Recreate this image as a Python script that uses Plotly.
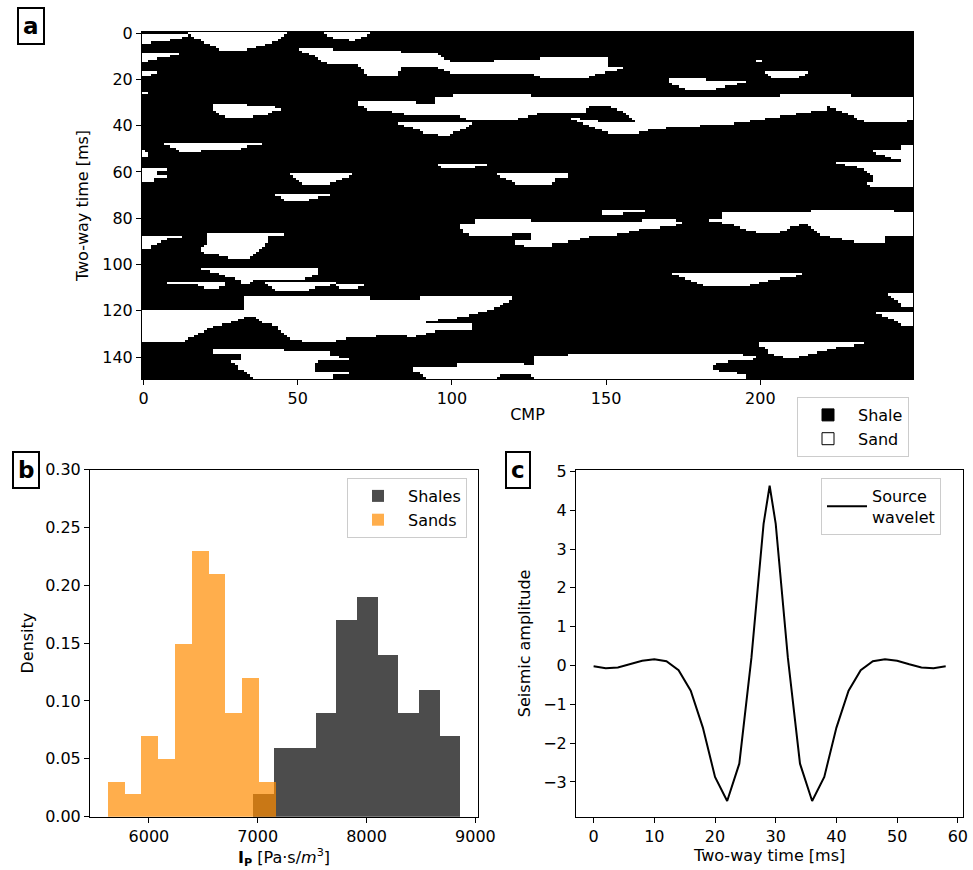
import numpy as np
import plotly.graph_objects as go

# ---------------- data: facies section (panel a) ----------------
n_cmp = 250
n_time = 150
# sand bodies, as outlines of (CMP, two-way time [ms])
sand_bodies_upper = [
    [(-0.5, 1), (15, 1), (12, 2.5), (6, 3.5), (-0.5, 4.5)],
    [(-0.5, 8.2), (12.7, 8.2), (10, 9.5), (5, 11), (-0.5, 12.8)],
    [(-0.5, 16.3), (5.8, 16.3), (3, 17.8), (-0.5, 19.2)],
    [(-0.5, 25.5), (1.8, 25.5), (1.8, 26.5), (-0.5, 26.5)],
    [(14, -0.6), (47, -0.6), (45, 2), (40, 5), (34, 7), (25, 7.2), (20, 4), (16, 1.5)],
    [(58.5, -0.6), (74.5, -0.6), (72, 1.5), (68, 3.2), (64, 2.5), (60, 1.5)],
    [(51, 6.6), (61, 6.6), (62, 7.3), (83.5, 7.3), (83.5, 8.8), (95.5, 8.8), (97, 10.5),
     (100, 12.5), (114, 12.5), (114, 11.2), (128, 11.2), (129, 10.5), (150.5, 10.5),
     (150.5, 14.3), (156, 14.3), (156, 15.3), (148, 17.5), (143, 19.5), (130, 19.5),
     (126, 17.8), (117, 17.5), (100, 17.3), (97, 15.5), (95, 14.5), (83.6, 14.5),
     (82, 19), (73, 19), (70, 14), (60, 13), (57, 11.5), (54, 9), (51, 7.6)],
    [(198.8, 11.6), (201, 11.6), (201, 12.6), (198.8, 12.6)],
    [(200.8, 16.3), (217, 16.3), (215, 17.5), (212, 19.2), (204, 19.2), (202, 17.5)],
    [(171, 19.2), (182.5, 19.2), (182.5, 20.5), (196, 20.5), (196, 21.3), (190, 22.5),
     (184, 24.5), (177, 24.5), (172, 22.3), (171, 21)],
    [(22.8, 30.4), (33.4, 30.4), (33.4, 31.5), (42.5, 31.5), (42.5, 33), (44.7, 33),
     (44.7, 34), (42, 34), (40, 35.3), (34.4, 36.2), (27.4, 36.2), (25, 35), (22.8, 33.5)],
    [(70, 29.2), (88.5, 29.2), (88.5, 31), (95, 31), (95, 27.5), (101, 27.5), (101, 26.5),
     (125.7, 26.5), (125.7, 27.6), (206.7, 27.6), (206.7, 26.5), (230, 26.5), (230, 27.5),
     (250, 27.5), (250, 36.9), (245.6, 39), (234.8, 39), (228, 34.7), (222, 31.6),
     (221, 33.5), (216.5, 34), (205.6, 36.2), (191.6, 39), (164.6, 41.5), (160, 43.4),
     (151, 43.4), (145, 40), (140, 37.5), (136.5, 36.2), (150, 38.5), (160, 38.5),
     (157, 35), (151, 31.8), (145, 31.8), (143, 34.2), (129, 34.5), (127, 35.4),
     (118, 38), (106, 38), (103, 36), (101, 35.6), (88.5, 35.6), (88.5, 35.3),
     (81, 34.8), (81, 33.2), (73, 33.2), (70, 31)],
    [(82, 38.6), (107, 38.6), (105, 40.5), (101, 43), (99, 44.8), (96, 44.8), (95, 43.4),
     (91, 43.4), (88, 41), (83, 39.5)],
]
sand_bodies_middle = [
    [(6.9, 47.4), (38.8, 47.4), (38.8, 48.2), (34, 49), (29.6, 50.5), (18.8, 50.8),
     (18.8, 51.3), (12.3, 51.3), (9, 49.2), (6.9, 48)],
    [(-0.5, 50.6), (1.5, 51.5), (1.5, 53), (-0.5, 53.5)],
    [(-0.5, 58.5), (7.4, 58.5), (7.4, 59.5), (5, 60), (5, 61), (7.4, 61.5), (7.4, 62.1),
     (3.7, 62.5), (3.7, 64.3), (-0.5, 64.3)],
    [(48, 60.3), (67.4, 60.3), (67.4, 61.5), (63, 63.5), (60, 65.7), (54, 66), (52, 65),
     (50, 63), (48, 61)],
    [(43, 69.2), (60.8, 69.2), (60.8, 70), (55, 71.5), (52, 72.5), (46, 72.5), (45, 71),
     (43, 70)],
    [(96, 56.6), (111.7, 56.6), (111.7, 57.2), (105, 58.5), (97, 58.5), (96, 57.8)],
    [(115, 60.5), (137.6, 60.5), (137.6, 62), (134, 63), (132, 65.5), (121, 65.5),
     (118, 63), (115, 61.5)],
    [(246, 49), (250, 49), (250, 66.3), (236, 66.3), (234, 64.5), (237, 64.5), (237, 62.5),
     (235, 60.5), (232, 58), (226, 56.5), (223, 55.6), (246, 55.6), (246, 55), (244, 54.9),
     (236.5, 51.3), (236.5, 50.6), (246, 50.6)],
    [(148.4, 76.5), (162.6, 76.5), (162.6, 77.2), (156, 78), (152, 79), (148.4, 78.5)],
    [(103, 82.5), (107.5, 82.5), (107.5, 80.6), (125.2, 80.6), (125.2, 81.5), (161.5, 81.5),
     (161.5, 80.6), (171, 80.6), (175, 82), (172, 83.5), (164.6, 84.4), (162, 84.5),
     (156, 86.7), (145, 88), (139, 89.8), (133, 90.9), (132.2, 92.3), (124.6, 92.3),
     (121, 91.5), (121, 89.4), (125.7, 89.4), (125.7, 86.7), (120, 86.7), (115.8, 88),
     (107.5, 88), (104, 86), (103, 84)],
    [(184, 80.1), (187.2, 80.1), (187.2, 77.6), (216.9, 77.6), (216.9, 76.5), (243.9, 76.5),
     (243.9, 77.6), (250, 77.6), (250, 88), (241, 88), (240.2, 90.1), (230.5, 90.1),
     (225, 88.7), (219, 86.7), (218, 85), (214.3, 82.5), (210, 84), (205.6, 86.3),
     (199, 86.3), (196, 85.1), (189.5, 82.3), (184, 81.5)],
    [(-0.5, 87.3), (12.7, 87.3), (12.7, 88), (9, 88.5), (6, 90), (3, 92), (1.5, 93.8),
     (-0.5, 93.8)],
    [(20.8, 86.3), (45.1, 86.3), (45.1, 87), (41, 87.8), (40.5, 89.5), (39.5, 92),
     (37, 94.5), (34.3, 97.4), (27.9, 97.4), (25, 96), (20, 95.5), (18.7, 94),
     (18.7, 92.5), (21, 91.5), (21, 88.5)],
]
sand_bodies_lower = [
    [(18.7, 101.7), (57, 101.7), (57, 103.5), (55, 105), (50.5, 106.8), (35.4, 106.8),
     (34, 108.2), (32, 108.2), (31, 106.8), (27.9, 105.5), (23, 103.5), (18.7, 102.3)],
    [(7.9, 107.3), (26.8, 107.3), (26.8, 108.8), (24.5, 110.3), (19.8, 110.3), (17, 108.8),
     (10, 108.8), (7.9, 108)],
    [(39.7, 108), (62.4, 108), (62.4, 108.8), (56, 109.5), (53, 111.2), (43, 111.2),
     (41, 109.5), (39.7, 108.8)],
    [(63, 108.5), (71.6, 108.5), (71.6, 109.2), (69, 110.5), (64, 110.5), (63, 109.5)],
    [(171.6, 103.6), (213.8, 103.6), (213.8, 104.5), (204, 106.5), (197, 108.9),
     (192.7, 110), (183, 110), (180.8, 108.6), (176, 106), (171.6, 104.2)],
    [(241.8, 112.5), (250, 112.5), (250, 118.3), (246, 118), (244, 115), (241.8, 113.2)],
    [(238, 120.5), (250, 120.5), (250, 126.2), (246, 126), (242, 123), (238, 121.2)],
    [(-0.5, 119.8), (32.8, 119.8), (32.8, 113.3), (73.9, 113.3), (73.9, 115.4), (90, 115.4),
     (90, 113.3), (119.8, 113.3), (119.8, 115), (117, 117), (112.8, 119.7), (106.3, 121.9),
     (100, 123.5), (96, 124), (92, 125), (106.8, 125.6), (106.8, 128.1), (100, 128.1),
     (94.4, 129), (88, 131.2), (80, 130.5), (73, 131.3), (68.5, 131.3), (61, 133.3),
     (55.5, 134), (48, 132), (45, 129.8), (42.5, 126.2), (38, 124.8), (36, 122.6),
     (33, 122.6), (29, 124.8), (21, 127.7), (13, 133.4), (-0.5, 133.4)],
    [(200, 133.7), (233.2, 133.7), (233.2, 134.5), (225, 136), (217, 138.3), (212, 140.2),
     (207.8, 140.2), (203, 138.5), (202, 136), (200, 135)],
    [(22.8, 136.8), (25.3, 136.8), (25.3, 136.3), (45.2, 136.3), (45.2, 137.3), (61, 137.3),
     (61, 139.8), (67, 140.2), (67, 141.4), (58, 141.4), (55.5, 142.5), (55.5, 146),
     (67, 146.4), (67, 147.1), (62, 147.5), (62, 149.6), (37, 149.6), (34, 147.8),
     (31, 145), (28.5, 141.4), (31.8, 141.3), (31.8, 138.6), (22.8, 138.4)],
    [(86.8, 144.5), (102, 144.2), (102, 142.7), (123.5, 142.7), (123.5, 143.5), (127, 143.5),
     (127, 139.7), (137.6, 139.7), (137.6, 138.5), (185.7, 138.5), (199, 139.3),
     (199, 140.8), (193, 141.5), (186, 142.5), (184, 145.5), (190, 146.5), (196, 147.8),
     (196, 149.6), (127, 149.6), (125, 147.5), (116, 147.5), (113.5, 149.6), (92, 149.6),
     (88, 146)],
]
facies_labels = ["Shale", "Sand"]

# ---------------- data: impedance histograms (panel b) ----------------
shale_edges = [6960, 7150, 7340, 7531, 7721, 7911, 8101, 8291, 8482, 8672, 8862]
shale_density = [0.02, 0.06, 0.06, 0.09, 0.17, 0.19, 0.14, 0.09, 0.11, 0.07]
sand_edges = [5621, 5776, 5930, 6085, 6239, 6394, 6548, 6703, 6857, 7012, 7166]
sand_density = [0.03, 0.02, 0.07, 0.05, 0.15, 0.23, 0.21, 0.09, 0.12, 0.03]

# ---------------- data: source wavelet (panel c) ----------------
wavelet_time = [0, 2, 4, 6, 8, 10, 12, 14, 16, 18, 20, 22, 24, 26, 28, 29, 30, 32, 34,
                36, 38, 40, 42, 44, 46, 48, 50, 52, 54, 56, 58]
wavelet_amp = [-0.02, -0.07, -0.05, 0.03, 0.12, 0.16, 0.11, -0.12, -0.65, -1.6, -2.87,
               -3.49, -2.53, 0.2, 3.65, 4.63, 3.65, 0.2, -2.53, -3.49, -2.87, -1.6,
               -0.65, -0.12, 0.11, 0.16, 0.12, 0.03, -0.05, -0.07, -0.02]


def rasterize(polys, ncols, nrows):
    jj, ii = np.meshgrid(np.arange(ncols), np.arange(nrows))
    z = np.zeros((nrows, ncols), dtype=int)
    for poly in polys:
        p = np.asarray(poly, float)
        xs, ys = p[:, 0], p[:, 1]
        inside = np.zeros(z.shape, bool)
        n = len(p)
        for k in range(n):
            x1, y1 = xs[k], ys[k]
            x2, y2 = xs[(k + 1) % n], ys[(k + 1) % n]
            if y1 == y2:
                continue
            cond = (y1 > ii) != (y2 > ii)
            xint = x1 + (ii - y1) * (x2 - x1) / (y2 - y1)
            inside ^= cond & (jj < xint)
        z[inside] = 1
    return z


facies = rasterize(sand_bodies_upper + sand_bodies_middle + sand_bodies_lower, n_cmp, n_time)

FONT = "DejaVu Sans"
W, H = 973, 870

fig = go.Figure()

fig.add_trace(go.Heatmap(
    z=facies, x=np.arange(n_cmp), y=np.arange(n_time),
    colorscale=[[0, "black"], [1, "white"]], zmin=0, zmax=1,
    showscale=False, xaxis="x", yaxis="y", hoverinfo="skip"))
fig.add_trace(go.Bar(x=[None], y=[None], name=facies_labels[0], xaxis="x", yaxis="y",
                     marker=dict(color="black", line=dict(color="black", width=1)),
                     legend="legend", showlegend=True))
fig.add_trace(go.Bar(x=[None], y=[None], name=facies_labels[1], xaxis="x", yaxis="y",
                     marker=dict(color="white", line=dict(color="black", width=1)),
                     legend="legend", showlegend=True))

def centers(edges):
    e = np.asarray(edges, float)
    return (e[:-1] + e[1:]) / 2, np.diff(e)

sc, sw = centers(shale_edges)
dc, dw = centers(sand_edges)
fig.add_trace(go.Bar(x=sc, y=shale_density, width=sw, name="Shales",
                     marker=dict(color="rgba(0,0,0,0.7)", line=dict(width=0)),
                     xaxis="x2", yaxis="y2", legend="legend2"))
fig.add_trace(go.Bar(x=dc, y=sand_density, width=dw, name="Sands",
                     marker=dict(color="rgba(255,140,0,0.7)", line=dict(width=0)),
                     xaxis="x2", yaxis="y2", legend="legend2"))

fig.add_trace(go.Scatter(x=wavelet_time, y=wavelet_amp, mode="lines", name="Source<br>wavelet",
                         line=dict(color="black", width=2), xaxis="x3", yaxis="y3",
                         legend="legend3"))

def px(x):
    return x / W

def py(y):
    return 1 - y / H

axis_common = dict(showline=True, linecolor="black", linewidth=1, mirror=True,
                   ticks="outside", ticklen=5, tickwidth=1, tickcolor="black",
                   showgrid=False, zeroline=False, automargin=False,
                   tickfont=dict(family=FONT, size=16, color="black"),
                   title_font=dict(family=FONT, size=16, color="black"))

legend_common = dict(xanchor="left", yanchor="top", bordercolor="#cccccc", borderwidth=1,
                     bgcolor="white", font=dict(family=FONT, size=16, color="black"))

fig.update_layout(
    width=W, height=H, autosize=False,
    margin=dict(l=0, r=0, t=0, b=0),
    paper_bgcolor="white", plot_bgcolor="white",
    barmode="overlay", bargap=0,
    font=dict(family=FONT, size=16, color="black"),
    xaxis=dict(axis_common, domain=[px(142), px(913)], anchor="y", type="linear",
               range=[-0.5, 249.5], tickvals=[0, 50, 100, 150, 200],
               title=dict(text="CMP", standoff=1)),
    yaxis=dict(axis_common, domain=[py(379), py(32)], anchor="x", type="linear",
               range=[149.5, -0.5], tickvals=list(range(0, 141, 20)),
               title=dict(text="Two-way time [ms]", standoff=9)),
    xaxis2=dict(axis_common, domain=[px(90), px(478)], anchor="y2",
                range=[5459, 9024], tickvals=[6000, 7000, 8000, 9000],
                title=dict(text="<b>I</b><sub><b>P</b></sub> [Pa·s/<i>m</i><sup>3</sup>]",
                           standoff=4)),
    yaxis2=dict(axis_common, domain=[py(816.7), py(469.5)], anchor="x2",
                range=[0, 0.30], tickvals=[0, 0.05, 0.10, 0.15, 0.20, 0.25, 0.30],
                tickformat=".2f", title=dict(text="Density", standoff=7)),
    xaxis3=dict(axis_common, domain=[px(576), px(963.3)], anchor="y3",
                range=[-2.9, 60.9], tickvals=list(range(0, 61, 10)),
                title=dict(text="Two-way time [ms]", standoff=4)),
    yaxis3=dict(axis_common, domain=[py(816.7), py(470)], anchor="x3",
                range=[-3.896, 5.036], tickvals=list(range(-3, 6)),
                title=dict(text="Seismic amplitude", standoff=8)),
    legend=dict(legend_common, x=px(797), y=py(397), itemwidth=50),
    legend2=dict(legend_common, x=px(347), y=py(478), itemwidth=50),
    legend3=dict(legend_common, x=px(821), y=py(478), itemwidth=40),
)

for label, cx, cy in [("a", 31, 26.5), ("b", 25.5, 470), ("c", 517.5, 469.5)]:
    fig.add_annotation(text=f"<b>{label}</b>", x=px(cx), y=py(cy), xref="paper", yref="paper",
                       xanchor="center", yanchor="middle", showarrow=False,
                       font=dict(family=FONT, size=23, color="black"),
                       bordercolor="black", borderwidth=2, borderpad=4, bgcolor="white")

fig.write_html("out.html", config={"displayModeBar": False},
               post_script="document.body.style.margin='0';"
                           "document.body.style.overflow='hidden';")
